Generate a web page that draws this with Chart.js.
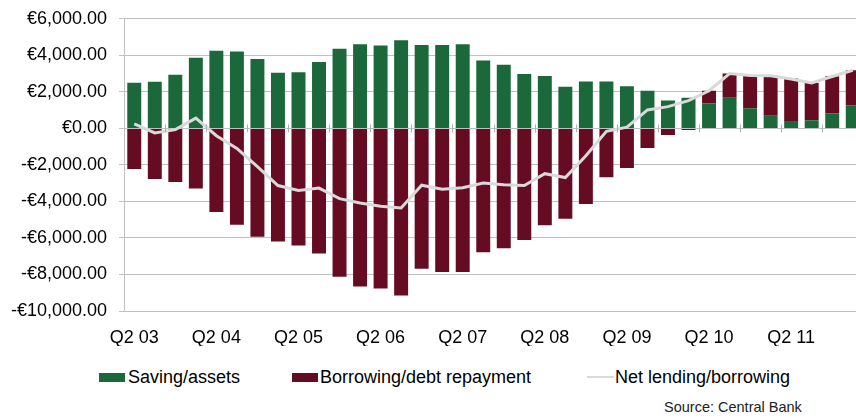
<!DOCTYPE html>
<html>
<head>
<meta charset="utf-8">
<script src="https://cdn.jsdelivr.net/npm/chart.js@4.4.1/dist/chart.umd.min.js"></script>
<style>
    html, body { margin: 0; padding: 0; background: #fff; width: 856px; height: 418px; overflow: hidden; }
    #wrap { position: absolute; left: 0; top: -4px; width: 863px; height: 350px; }
    .leg { position: absolute; top: 367px; font: 18px "Liberation Sans", Arial, sans-serif; color: #000; line-height: 20px; white-space: nowrap; }
    .box { position: absolute; top: 373px; width: 26px; height: 9px; }
    .ln { position: absolute; top: 376px; width: 27px; height: 2px; background: #d9d9d9; }
    #source { position: absolute; left: 664px; top: 399px; font: 14.5px "Liberation Sans", Arial, sans-serif; color: #222; white-space: nowrap; }
</style>
</head>
<body>
<div id="wrap"><canvas id="chart"></canvas></div>

<span class="box" style="left:99px;background:#1b693a"></span>
<span class="leg" style="left:128px">Saving/assets</span>
<span class="box" style="left:292px;background:#660c22"></span>
<span class="leg" style="left:320px">Borrowing/debt repayment</span>
<span class="ln" style="left:587px"></span>
<span class="leg" style="left:615px">Net lending/borrowing</span>
<div id="source">Source: Central Bank</div>

<script>
// data kuartalan
const quarters = ["Q2 03", "Q3 03", "Q4 03", "Q1 04", "Q2 04", "Q3 04", "Q4 04", "Q1 05",
    "Q2 05", "Q3 05", "Q4 05", "Q1 06", "Q2 06", "Q3 06", "Q4 06", "Q1 07",
    "Q2 07", "Q3 07", "Q4 07", "Q1 08", "Q2 08", "Q3 08", "Q4 08", "Q1 09",
    "Q2 09", "Q3 09", "Q4 09", "Q1 10", "Q2 10", "Q3 10", "Q4 10", "Q1 11",
    "Q2 11", "Q3 11", "Q4 11", "Q1 12"];

const saving = [2500, 2550, 2930, 3870, 4250, 4210, 3800, 3040, 3070, 3630, 4360, 4610,
    4540, 4830, 4570, 4570, 4610, 3720, 3490, 2980, 2870, 2280, 2570, 2570,
    2300, 2060, 1520, 1680, 1360, 1680, 1100, 690, 400, 450, 810, 1270];

const borrowing = [-2220, -2770, -2930, -3290, -4580, -5280, -5930, -6200, -6420, -6850, -8120, -8660,
    -8770, -9150, -7680, -7860, -7860, -6780, -6560, -6110, -5300, -4950, -4140, -2680,
    -2170, -1070, -360, -90, 700, 1320, 1790, 2200, 2330, 2050, 2050, 1910];

const netLending = [250, -250, -70, 560, -400, -1100, -2100, -3130, -3400, -3270, -3850, -4090,
    -4270, -4360, -3110, -3330, -3250, -2990, -3090, -3130, -2480, -2690, -1500, -160,
    70, 1010, 1190, 1520, 2060, 3000, 2900, 2880, 2700, 2490, 2840, 3180];

const yMin = -10000;
const yMax = 6000;
const yStep = 2000;

const FONT = "'Liberation Sans', Arial, sans-serif";

function formatEuro(v) {
    const s = Math.abs(v).toLocaleString("en-US", { minimumFractionDigits: 2, maximumFractionDigits: 2 });
    return (v < 0 ? "-€" : "€") + s;
}

// tanda kecil di garis nol, setiap dua kuartal
const zeroTicks = {
    id: "zeroTicks",
    afterDatasetsDraw(chart) {
        const x = chart.scales.x, y = chart.scales.y;
        const ctx = chart.ctx;
        const y0 = y.getPixelForValue(0);
        const half = (x.getPixelForValue(1) - x.getPixelForValue(0)) / 2;
        ctx.save();
        ctx.strokeStyle = "#b0b0b0";
        ctx.lineWidth = 1;
        for (let i = 2; i < quarters.length; i += 2) {
            const px = Math.round(x.getPixelForValue(i) - half) + 0.5;
            ctx.beginPath();
            ctx.moveTo(px, y0 - 4);
            ctx.lineTo(px, y0 + 4);
            ctx.stroke();
        }
        ctx.restore();
    }
};

const ctx = document.getElementById("chart").getContext("2d");
new Chart(ctx, {
    type: "bar",
    data: {
        labels: quarters,
        datasets: [{
            label: "Saving/assets",
            data: saving,
            backgroundColor: "#1b693a",
            borderWidth: 0,
            order: 1
        }, {
            label: "Borrowing/debt repayment",
            data: borrowing,
            backgroundColor: "#660c22",
            borderWidth: 0,
            order: 1
        }, {
            type: "line",
            label: "Net lending/borrowing",
            data: netLending,
            borderColor: "#d9d9d9",
            borderWidth: 3,
            pointRadius: 0,
            tension: 0,
            fill: false,
            order: 0
        }]
    },
    options: {
        responsive: true,
        maintainAspectRatio: false,
        animation: false,
        layout: { padding: { top: 13, right: 0, bottom: 0, left: 0 } },
        datasets: {
            bar: { barPercentage: 0.68, categoryPercentage: 1 }
        },
        scales: {
            x: {
                stacked: true,
                grid: { display: false },
                border: { display: false },
                ticks: {
                    autoSkip: false,
                    maxRotation: 0,
                    padding: 8,
                    color: "#000",
                    font: { family: FONT, size: 18 },
                    callback: function (val, i) {
                        return i % 4 === 0 ? quarters[i] : "";
                    }
                },
                afterFit: function (s) { s.height = 35; }
            },
            y: {
                stacked: true,
                min: yMin,
                max: yMax,
                grid: { color: "#c0c0c0", tickLength: 5 },
                border: { display: true, color: "#c0c0c0" },
                ticks: {
                    stepSize: yStep,
                    padding: 12,
                    color: "#000",
                    font: { family: FONT, size: 18 },
                    callback: formatEuro
                },
                afterFit: function (s) { s.width = 124; }
            }
        },
        plugins: {
            legend: { display: false },
            tooltip: { enabled: false }
        }
    },
    plugins: [zeroTicks]
});
</script>
</body>
</html>
